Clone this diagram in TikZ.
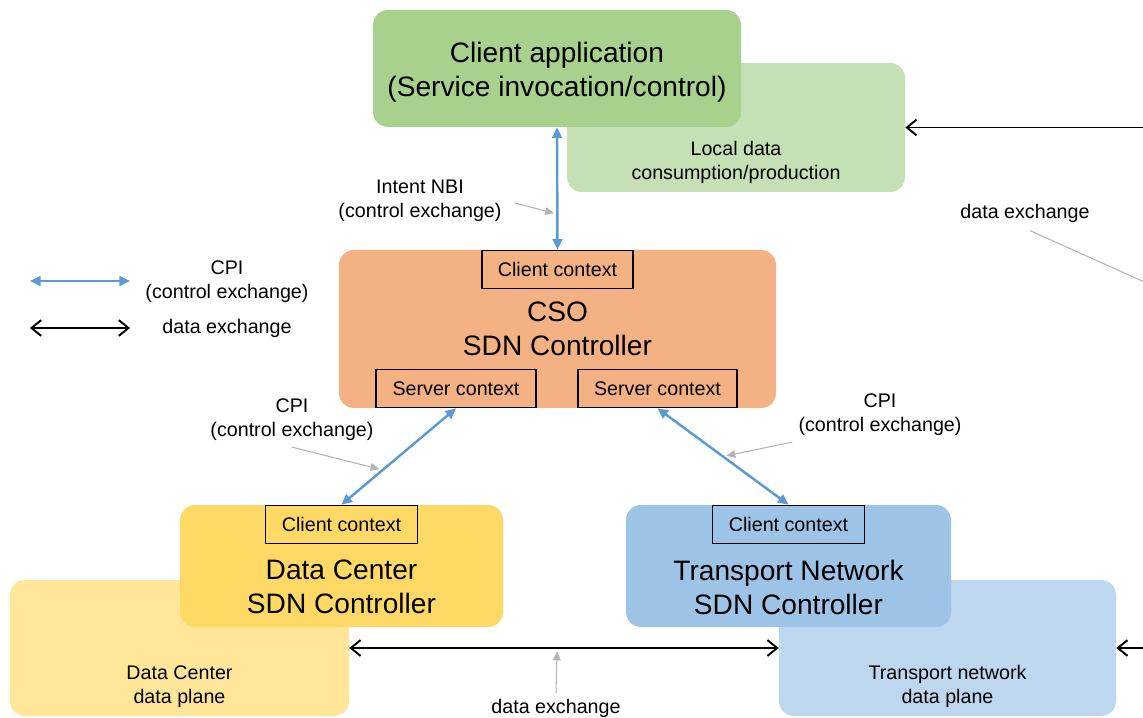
\documentclass[tikz,border=0pt]{standalone}
\usepackage{fontspec}
\setmainfont{Liberation Sans}
\usepackage{xcolor}
\usetikzlibrary{arrows.meta,positioning}

\definecolor{appgreen}{HTML}{A9D18E}
\definecolor{localgreen}{HTML}{C5E0B4}
\definecolor{csoorange}{HTML}{F4B183}
\definecolor{dcyellow}{HTML}{FFD966}
\definecolor{dcplaneyellow}{HTML}{FFE699}
\definecolor{tnblue}{HTML}{9DC3E6}
\definecolor{tnplaneblue}{HTML}{BDD7EE}
\definecolor{cpiblue}{HTML}{5B9BD5}
\definecolor{pointgray}{HTML}{B4B4B4}

\begin{document}
\begin{tikzpicture}[
    box/.style={rectangle, rounded corners=0.3cm, inner sep=0pt, align=center, font=\fontsize{16}{19.3}\selectfont},
    ctx/.style={rectangle, draw, line width=0.9pt, minimum width=3.04cm, minimum height=0.76cm, inner sep=0pt, font=\fontsize{11.2}{13.6}\selectfont},
    heading/.style={align=center, font=\fontsize{16}{19.3}\selectfont},
    lbl/.style={align=center, font=\fontsize{11.2}{13.6}\selectfont},
    cpiarrow/.style={{Triangle[length=6pt,width=5.5pt]}-{Triangle[length=6pt,width=5.5pt]}, line width=1.4pt, cpiblue},
    dataarrow/.style={{Straight Barb[length=5.5pt,width=9pt]}-{Straight Barb[length=5.5pt,width=9pt]}, line width=1.1pt},
    pointer/.style={-{Triangle[length=5pt,width=4.5pt]}, line width=0.6pt, pointgray}
]
\useasboundingbox (0,0) rectangle (22.86,14.34);
\clip (0,0) rectangle (22.86,14.34);

% Client application
\node[box, fill=localgreen, minimum width=6.76cm, minimum height=2.58cm] (local) at (14.72,11.79) {};
\node[lbl] (local-txt) at ([yshift=0.6cm]local.south) {Local data\\consumption/production};
\node[box, fill=appgreen, minimum width=7.36cm, minimum height=2.34cm] (app) at (11.14,12.97) {};
\node[heading] (app-txt) at ([yshift=-0.07cm]app.center) {Client application\\(Service invocation/control)};

% CSO SDN Controller
\node[box, fill=csoorange, minimum width=8.74cm, minimum height=3.16cm] (cso) at (11.15,7.76) {CSO\\SDN Controller};
\node[ctx, minimum width=3.02cm, below=0pt of cso.north] (cso-client) {Client context};
\node[ctx, minimum width=3.2cm, above=0pt of cso.south, xshift=-2.03cm] (cso-srv1) {Server context};
\node[ctx, minimum width=3.18cm, above=0pt of cso.south, xshift=2.0cm] (cso-srv2) {Server context};

% Data Center
\node[box, fill=dcplaneyellow, minimum width=6.78cm, minimum height=2.72cm] (dcplane) at (3.59,1.38) {};
\node[lbl] (dcplane-txt) at ([yshift=0.6cm]dcplane.south) {Data Center\\data plane};
\node[box, fill=dcyellow, minimum width=6.46cm, minimum height=2.44cm] (dc) at (6.83,3.02) {};
\node[ctx, below=0pt of dc.north] (dc-client) {Client context};
\node[heading] (dc-txt) at ([yshift=-0.42cm]dc.center) {Data Center\\SDN Controller};

% Transport Network
\node[box, fill=tnplaneblue, minimum width=6.74cm, minimum height=2.72cm] (tnplane) at (18.95,1.38) {};
\node[lbl] (tnplane-txt) at ([yshift=0.6cm]tnplane.south) {Transport network\\data plane};
\node[box, fill=tnblue, minimum width=6.5cm, minimum height=2.44cm] (tn) at (15.77,3.02) {};
\node[ctx, below=0pt of tn.north] (tn-client) {Client context};
\node[heading] (tn-txt) at ([yshift=-0.42cm]tn.center) {Transport Network\\SDN Controller};

% Control exchange (blue)
\draw[cpiarrow] (app.south) -- (cso-client.north) coordinate[pos=0.71] (nbi-pt);
\draw[cpiarrow] (cso-srv1.south) -- (dc-client.north) coordinate[pos=0.64] (cpil-pt);
\draw[cpiarrow] (cso-srv2.south) -- (tn-client.north) coordinate[pos=0.5] (cpir-pt);

% Data exchange (black)
\coordinate (rtop) at (23.5,11.79);
\coordinate (rbot) at (23.5,1.38);
\draw[dataarrow] (dcplane.east) -- (tnplane.west) coordinate[pos=0.484] (data-pt);
\draw[dataarrow] (rtop) -- (local.east);
\draw[dataarrow] (rbot) -- (tnplane.east);

% Labels with pointers
\node[lbl] (nbi-lbl) at (8.4,10.32) {Intent NBI\\(control exchange)};
\node[lbl] (cpil-lbl) at (5.84,5.94) {CPI\\(control exchange)};
\node[lbl] (cpir-lbl) at (17.6,6.04) {CPI\\(control exchange)};
\node[lbl] (data-lbl) at (11.12,0.17) {data exchange};
\node[lbl] (rdata-lbl) at (20.5,10.08) {data exchange};
\coordinate (rdata-pt) at (24.0,8.2);

\draw[pointer, shorten >=2pt, shorten <=4pt] (nbi-lbl.east) -- (nbi-pt);
\draw[pointer, shorten >=2pt] (cpil-lbl.south) -- (cpil-pt);
\draw[pointer, shorten >=2pt] (cpir-lbl.south west) -- (cpir-pt);
\draw[pointer, shorten >=2pt] (data-lbl.north) -- (data-pt);
\draw[pointer, shorten <=3pt] (rdata-lbl.south) -- (rdata-pt);

% Legend
\coordinate (lg-cpi-a) at (0.6,8.72);
\coordinate (lg-cpi-b) at (2.6,8.72);
\coordinate (lg-data-a) at (0.6,7.78);
\coordinate (lg-data-b) at (2.6,7.78);
\draw[cpiarrow] (lg-cpi-a) -- (lg-cpi-b);
\draw[dataarrow] (lg-data-a) -- (lg-data-b);
\node[lbl] (lg-cpi-txt) at (4.54,8.70) {CPI\\(control exchange)};
\node[lbl] (lg-data-txt) at (4.54,7.78) {data exchange};

\end{tikzpicture}
\end{document}
